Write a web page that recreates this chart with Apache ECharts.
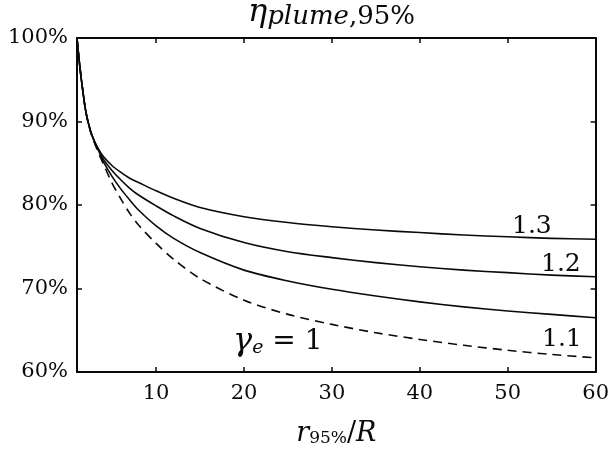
<!DOCTYPE html>
<html>
<head>
<meta charset="utf-8">
<script src="https://cdn.jsdelivr.net/npm/echarts@6/dist/echarts.min.js"></script>
<style>
  html, body { margin: 0; padding: 0; background: #fff; }
  #chart { width: 612px; height: 452px; }
</style>
</head>
<body>
<div id="chart"></div>
<script>
// r95%/R values
const xs = [1, 1.2, 1.5, 2, 2.5, 3, 3.5, 4, 5, 6, 7, 8, 10, 12, 15, 20, 25, 30, 35, 40, 45, 50, 55, 60]
// eta plume (%) for each gamma_e
const gamma13 = [100, 97.8, 95.0, 91.2, 89.0, 87.6, 86.6, 85.8, 84.7, 83.9, 83.2, 82.7, 81.7, 80.8, 79.7, 78.6, 77.9, 77.4, 77.0, 76.7, 76.4, 76.2, 76.0, 75.9]
const gamma12 = [100, 97.8, 95.0, 91.2, 89.0, 87.6, 86.5, 85.5, 84.1, 83.0, 82.0, 81.2, 79.9, 78.7, 77.2, 75.5, 74.4, 73.7, 73.1, 72.6, 72.2, 71.9, 71.6, 71.4]
const gamma11 = [100, 97.8, 95.0, 91.2, 89.0, 87.5, 86.4, 85.2, 83.4, 81.9, 80.6, 79.4, 77.5, 76.0, 74.3, 72.2, 70.9, 69.9, 69.1, 68.4, 67.8, 67.3, 66.9, 66.5]
const gamma10 = [100, 97.8, 95.0, 91.2, 88.9, 87.4, 86.1, 84.9, 82.6, 80.7, 79.0, 77.6, 75.4, 73.5, 71.2, 68.6, 66.9, 65.7, 64.7, 63.9, 63.2, 62.6, 62.1, 61.7]
const xTicks = [10, 20, 30, 40, 50, 60]

const serif = 'DejaVu Serif'
const ink = '#0a0a0a'

function pairs (ys) {
  return xs.map((x, i) => [x, ys[i]])
}

function curve (name, ys, dashed) {
  return {
    name: name,
    type: 'line',
    data: pairs(ys),
    symbol: 'none',
    smooth: 0.3,
    lineStyle: { color: ink, width: 1.6, type: dashed ? [9, 6] : 'solid', join: 'round' },
    z: 3
  }
}

let chart = echarts.init(document.getElementById('chart'))
let option = {
  animation: false,
  grid: { left: 77, right: 14, top: 38, bottom: 68 },
  xAxis: [
    {
      type: 'value',
      min: 1,
      max: 60,
      name: '{r|r}{s|95%}{n|/}{r|R}',
      nameLocation: 'middle',
      nameGap: 48,
      nameTextStyle: {
        rich: {
          r: { fontFamily: serif, fontStyle: 'italic', fontSize: 27, color: ink },
          n: { fontFamily: serif, fontSize: 27, color: ink },
          s: { fontFamily: serif, fontSize: 17, color: ink, padding: [10, 0, 0, 0] }
        }
      },
      axisLine: { show: true, lineStyle: { color: ink, width: 2 } },
      axisTick: { show: true, inside: true, length: 5, customValues: xTicks, lineStyle: { color: ink, width: 1.5 } },
      axisLabel: { customValues: xTicks, fontFamily: serif, fontSize: 21, color: ink, margin: 11 },
      splitLine: { show: false }
    },
    {
      type: 'value',
      position: 'top',
      min: 1,
      max: 60,
      axisLine: { show: true, lineStyle: { color: ink, width: 2 } },
      axisTick: { show: true, inside: true, length: 5, customValues: xTicks, lineStyle: { color: ink, width: 1.5 } },
      axisLabel: { show: false },
      splitLine: { show: false }
    }
  ],
  yAxis: [
    {
      type: 'value',
      min: 60,
      max: 100,
      interval: 10,
      axisLine: { show: true, lineStyle: { color: ink, width: 2 } },
      axisTick: { show: true, inside: true, length: 5, lineStyle: { color: ink, width: 1.5 } },
      axisLabel: { formatter: '{value}%', fontFamily: serif, fontSize: 21, color: ink, margin: 9 },
      splitLine: { show: false }
    },
    {
      type: 'value',
      position: 'right',
      min: 60,
      max: 100,
      interval: 10,
      axisLine: { show: true, lineStyle: { color: ink, width: 2 } },
      axisTick: { show: true, inside: true, length: 5, lineStyle: { color: ink, width: 1.5 } },
      axisLabel: { show: false },
      splitLine: { show: false }
    }
  ],
  series: [
    curve('1.3', gamma13, false),
    curve('1.2', gamma12, false),
    curve('1.1', gamma11, false),
    curve('1', gamma10, true)
  ],
  graphic: [
    {
      // title
      type: 'text',
      left: 248,
      top: -3,
      style: {
        text: '{g|η}{s|plume}{c|,95%}',
        rich: {
          g: { fontFamily: serif, fontStyle: 'italic', fontSize: 32, fill: ink },
          s: { fontFamily: serif, fontStyle: 'italic', fontSize: 26, fill: ink, padding: [8, 0, 0, 0] },
          c: { fontFamily: serif, fontSize: 26, fill: ink, padding: [8, 0, 0, 0] }
        }
      }
    },
    { type: 'text', left: 512, top: 214, style: { text: '1.3', fontFamily: serif, fontSize: 25, fill: ink } },
    { type: 'text', left: 541, top: 252, style: { text: '1.2', fontFamily: serif, fontSize: 25, fill: ink } },
    { type: 'text', left: 542, top: 327, style: { text: '1.1', fontFamily: serif, fontSize: 25, fill: ink } },
    {
      type: 'text',
      left: 233,
      top: 326,
      style: {
        text: '{g|γ}{e|e}{n| = 1}',
        rich: {
          g: { fontFamily: serif, fontStyle: 'italic', fontSize: 32, fill: ink },
          e: { fontFamily: serif, fontStyle: 'italic', fontSize: 19, fill: ink, padding: [12, 0, 0, 0] },
          n: { fontFamily: serif, fontSize: 28, fill: ink }
        }
      }
    }
  ]
}
option && chart.setOption(option)
</script>
</body>
</html>
